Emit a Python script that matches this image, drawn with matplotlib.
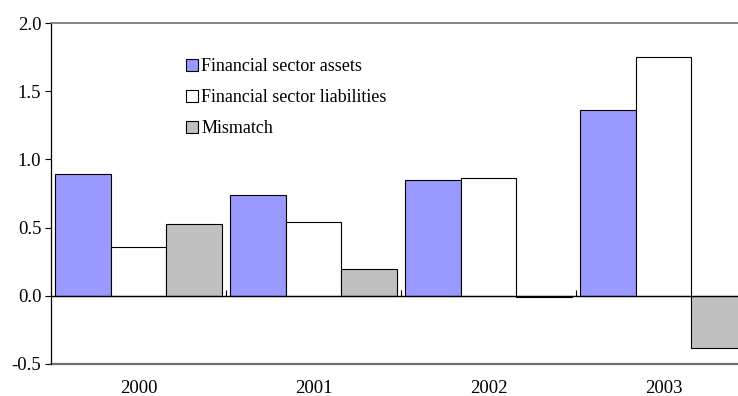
import matplotlib.pyplot as plt
import numpy as np

plt.rcParams['font.family'] = ['Liberation Serif', 'DejaVu Serif']

# === data ===
years = ['2000', '2001', '2002', '2003']
assets = [0.89, 0.74, 0.85, 1.36]
liabilities = [0.36, 0.54, 0.86, 1.75]
mismatch = [0.53, 0.20, -0.01, -0.38]

legends = ['Financial sector assets', 'Financial sector liabilities', 'Mismatch']
fill_colors = ['#9999ff', '#ffffff', '#c0c0c0']

# === draw ===
fig = plt.figure(figsize=(7.38, 3.96), dpi=100)
ax = fig.add_axes([51 / 738, 1 - 364 / 396, 700 / 738, 341 / 396])

x = np.arange(len(years))
width = 0.317
for i, vals in enumerate([assets, liabilities, mismatch]):
    ax.bar(x + (i - 1) * width, vals, width, color=fill_colors[i],
           edgecolor='black', linewidth=0.8, label=legends[i], zorder=2)

ax.set_xlim(-0.5, 3.5)
ax.set_ylim(-0.5, 2.0)
ax.set_yticks(np.arange(-0.5, 2.01, 0.5))
ax.set_yticklabels([f'{v:.1f}' for v in np.arange(-0.5, 2.01, 0.5)])
ax.tick_params(axis='y', direction='out', length=4, labelsize=13.5, width=0.8, pad=3)

# zero axis with small upward ticks between the years
ax.spines['bottom'].set_position(('data', 0))
ax.spines['bottom'].set_linewidth(1.0)
ax.spines['bottom'].set_zorder(3)
ax.set_xticks(np.arange(0.5, len(years) - 0.5, 1))
ax.set_xticklabels([])
ax.tick_params(axis='x', direction='in', length=4, width=0.8)

ax.spines['left'].set_linewidth(0.9)
ax.spines['top'].set_color('#707070')
ax.spines['top'].set_linewidth(1.2)
ax.spines['right'].set_visible(False)
ax.axhline(-0.5, color='#707070', linewidth=1.6, clip_on=False)

for xi, yr in zip(x, years):
    ax.text(xi, -0.071, yr, transform=ax.get_xaxis_transform(),
            ha='center', va='center', fontsize=13.5)

ax.legend(loc='upper left', bbox_to_anchor=(0.193, 0.897), frameon=False,
          fontsize=13, handlelength=0.68, handleheight=0.68,
          handletextpad=0.15, labelspacing=0.78, borderaxespad=0, borderpad=0)

plt.savefig('out.png', dpi=100)
